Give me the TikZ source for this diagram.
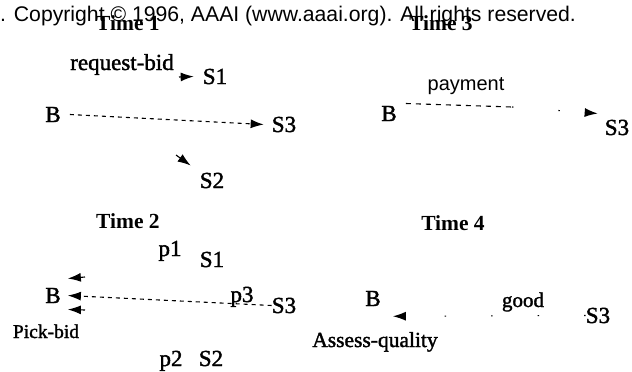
\documentclass[tikz,border=0pt]{standalone}
\usepackage{fontspec}
\setmainfont{Liberation Serif}[UprightFeatures={FakeBold=1.6}]
\newfontfamily\hsans{Liberation Sans}
\usetikzlibrary{arrows.meta}
\tikzset{
  lab/.style={inner sep=0pt, anchor=base, font=\fontsize{23}{25}\selectfont},
  ttl/.style={inner sep=0pt, anchor=base, font=\fontsize{21.5}{24}\selectfont\bfseries},
  tip/.style={-{Latex[length=13pt,width=9pt]}, line width=1.1pt},
  dsh/.style={tip, dash pattern=on 4pt off 4pt},
  sparse/.style={tip, dash pattern=on 1.5pt off 45pt},
}
\begin{document}
\begin{tikzpicture}[x=1pt,y=-1pt]
\useasboundingbox (0,0) rectangle (632,372);
% header
\node[anchor=base west, inner sep=0pt, font=\hsans\fontsize{21.2}{24}\selectfont] (hdr) at (0,21) {. Copyright © 1996, AAAI (www.aaai.org). All rights reserved.};

% ---------- Time 1 ----------
\node[ttl] (t1) at (128,30) {Time 1};
\node[lab] (rb) at (122,70) {request-bid};
\node[lab] (s11) at (215,84) {S1};
\node[lab] (b1) at (53,122) {B};
\node[lab] (s31) at (284,132) {S3};
\node[lab] (s21) at (212,188) {S2};
\coordinate (c11) at (179,77);
\draw[tip] (c11) -- ([xshift=-9pt]s11.west);
\draw[dsh] ([xshift=9pt]b1.east) -- ([xshift=-8pt]s31.west);
\coordinate (c21) at (176,155);
\draw[tip] (c21) -- ([xshift=-9pt,yshift=15pt]s21.west);

% ---------- Time 2 ----------
\node[ttl] (t2) at (128,228) {Time 2};
\node[lab] (p1) at (170,256) {p1};
\node[lab] (s12) at (212,267) {S1};
\node[lab] (b2) at (53,303) {B};
\node[lab] (p3) at (242,302) {p3};
\node[lab] (s32) at (284,313) {S3};
\node[lab, font=\fontsize{19.5}{24}\selectfont] (pb) at (46,338) {Pick-bid};
\node[lab] (p2) at (171,366) {p2};
\node[lab] (s22) at (211,366) {S2};
\draw[dsh] (s32.west) -- ([xshift=7pt]b2.east);
\coordinate (c12) at (85,277);
\draw[tip] (c12) -- ([xshift=7pt,yshift=17pt]b2.east);
\coordinate (c22) at (85,310);
\draw[tip] (c22) -- ([xshift=7pt,yshift=-14pt]b2.east);

% ---------- Time 3 ----------
\node[ttl] (t3) at (441,30) {Time 3};
\node[anchor=base, inner sep=0pt, font=\hsans\fontsize{20}{24}\selectfont] (pay) at (466,90) {payment};
\node[lab] (b3) at (389,121) {B};
\node[lab] (s33) at (617,135) {S3};
\coordinate (m3) at (512,107);
\draw[line width=1.1pt, dash pattern=on 5pt off 5pt] ([xshift=9pt,yshift=10pt]b3.east) -- (m3);
\draw[sparse] (m3) -- ([xshift=-7pt,yshift=14pt]s33.west);

% ---------- Time 4 ----------
\node[ttl] (t4) at (453,230) {Time 4};
\node[lab] (b4) at (373,306) {B};
\node[lab, font=\fontsize{21}{24}\selectfont] (good) at (523,307) {good};
\node[lab] (s34) at (598,323) {S3};
\node[lab, font=\fontsize{21.5}{24}\selectfont] (aq) at (375,347) {Assess-quality};
\draw[sparse] (s34.west) -- ([xshift=12pt,yshift=-10pt]b4.south east);
\end{tikzpicture}
\end{document}
